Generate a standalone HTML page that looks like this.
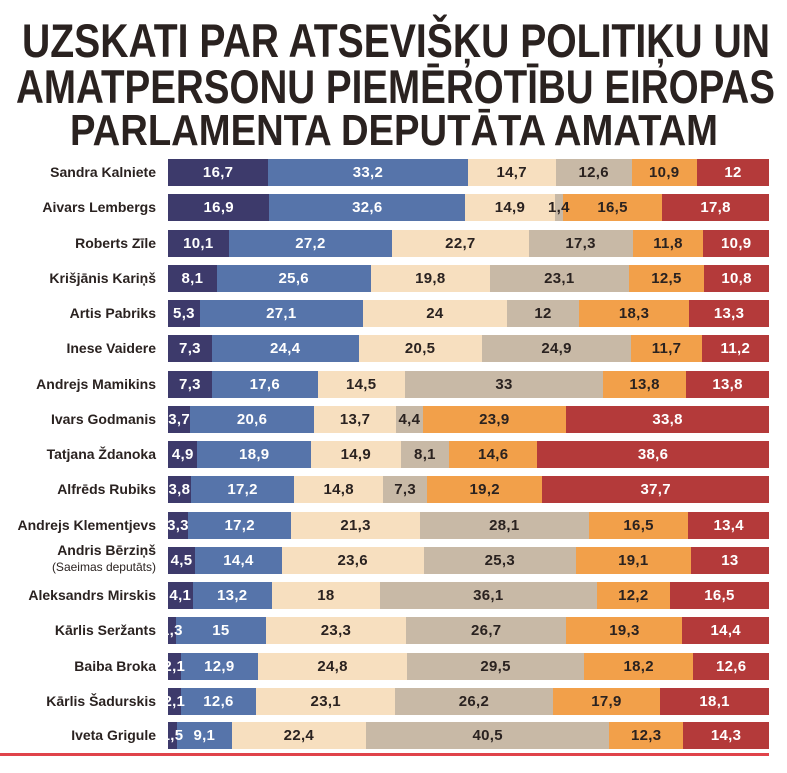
<!DOCTYPE html>
<html><head><meta charset="utf-8"><style>
body{margin:0;width:787px;height:773px;background:#fff;position:relative;overflow:hidden;font-family:"Liberation Sans",sans-serif}
.t{position:absolute;left:0;top:0}
.row{position:absolute;left:168px;width:601px;height:27px;display:flex}
.row div{min-width:0;display:flex;align-items:center;justify-content:center;white-space:nowrap;font-weight:bold;font-size:15px;letter-spacing:0.3px;overflow:visible}
.row span{position:relative;z-index:2}
.a{background:#3d3a6b;color:#fff}.b{background:#5674aa;color:#fff}.c{background:#f7dfbf;color:#2a2220}.d{background:#c8b9a6;color:#2a2220}.e{background:#f2a04a;color:#2a2220}.f{background:#b43a3a;color:#fff}
.lab{position:absolute;right:631px;font-weight:bold;font-size:14px;color:#2a2220;white-space:nowrap;text-align:right;line-height:27px}
</style></head><body>
<svg class="t" width="787" height="150" font-family="Liberation Sans,sans-serif" font-weight="bold" fill="#2a2220">
<text x="22" y="57" font-size="47" textLength="748" lengthAdjust="spacingAndGlyphs">UZSKATI PAR ATSEVIŠĶU POLITIĶU UN</text>
<text x="16" y="103" font-size="47" textLength="759" lengthAdjust="spacingAndGlyphs">AMATPERSONU PIEMĒROTĪBU EIROPAS</text>
<text x="70" y="145" font-size="44" textLength="648" lengthAdjust="spacingAndGlyphs">PARLAMENTA DEPUTĀTA AMATAM</text>
</svg>

<div class="lab" style="top:159px">Sandra Kalniete</div>
<div class="row" style="top:159px"><div class="a" style="flex:16.7"><span>16,7</span></div><div class="b" style="flex:33.2"><span>33,2</span></div><div class="c" style="flex:14.7"><span>14,7</span></div><div class="d" style="flex:12.6"><span>12,6</span></div><div class="e" style="flex:10.9"><span>10,9</span></div><div class="f" style="flex:12"><span>12</span></div></div>

<div class="lab" style="top:194px">Aivars Lembergs</div>
<div class="row" style="top:194px"><div class="a" style="flex:16.9"><span>16,9</span></div><div class="b" style="flex:32.6"><span>32,6</span></div><div class="c" style="flex:14.9"><span>14,9</span></div><div class="d" style="flex:1.4"><span>1,4</span></div><div class="e" style="flex:16.5"><span>16,5</span></div><div class="f" style="flex:17.8"><span>17,8</span></div></div>

<div class="lab" style="top:230px">Roberts Zīle</div>
<div class="row" style="top:230px"><div class="a" style="flex:10.1"><span>10,1</span></div><div class="b" style="flex:27.2"><span>27,2</span></div><div class="c" style="flex:22.7"><span>22,7</span></div><div class="d" style="flex:17.3"><span>17,3</span></div><div class="e" style="flex:11.8"><span>11,8</span></div><div class="f" style="flex:10.9"><span>10,9</span></div></div>

<div class="lab" style="top:265px">Krišjānis Kariņš</div>
<div class="row" style="top:265px"><div class="a" style="flex:8.1"><span>8,1</span></div><div class="b" style="flex:25.6"><span>25,6</span></div><div class="c" style="flex:19.8"><span>19,8</span></div><div class="d" style="flex:23.1"><span>23,1</span></div><div class="e" style="flex:12.5"><span>12,5</span></div><div class="f" style="flex:10.8"><span>10,8</span></div></div>

<div class="lab" style="top:300px">Artis Pabriks</div>
<div class="row" style="top:300px"><div class="a" style="flex:5.3"><span>5,3</span></div><div class="b" style="flex:27.1"><span>27,1</span></div><div class="c" style="flex:24"><span>24</span></div><div class="d" style="flex:12"><span>12</span></div><div class="e" style="flex:18.3"><span>18,3</span></div><div class="f" style="flex:13.3"><span>13,3</span></div></div>

<div class="lab" style="top:335px">Inese Vaidere</div>
<div class="row" style="top:335px"><div class="a" style="flex:7.3"><span>7,3</span></div><div class="b" style="flex:24.4"><span>24,4</span></div><div class="c" style="flex:20.5"><span>20,5</span></div><div class="d" style="flex:24.9"><span>24,9</span></div><div class="e" style="flex:11.7"><span>11,7</span></div><div class="f" style="flex:11.2"><span>11,2</span></div></div>

<div class="lab" style="top:371px">Andrejs Mamikins</div>
<div class="row" style="top:371px"><div class="a" style="flex:7.3"><span>7,3</span></div><div class="b" style="flex:17.6"><span>17,6</span></div><div class="c" style="flex:14.5"><span>14,5</span></div><div class="d" style="flex:33"><span>33</span></div><div class="e" style="flex:13.8"><span>13,8</span></div><div class="f" style="flex:13.8"><span>13,8</span></div></div>

<div class="lab" style="top:406px">Ivars Godmanis</div>
<div class="row" style="top:406px"><div class="a" style="flex:3.7"><span>3,7</span></div><div class="b" style="flex:20.6"><span>20,6</span></div><div class="c" style="flex:13.7"><span>13,7</span></div><div class="d" style="flex:4.4"><span>4,4</span></div><div class="e" style="flex:23.9"><span>23,9</span></div><div class="f" style="flex:33.8"><span>33,8</span></div></div>

<div class="lab" style="top:441px">Tatjana Ždanoka</div>
<div class="row" style="top:441px"><div class="a" style="flex:4.9"><span>4,9</span></div><div class="b" style="flex:18.9"><span>18,9</span></div><div class="c" style="flex:14.9"><span>14,9</span></div><div class="d" style="flex:8.1"><span>8,1</span></div><div class="e" style="flex:14.6"><span>14,6</span></div><div class="f" style="flex:38.6"><span>38,6</span></div></div>

<div class="lab" style="top:476px">Alfrēds Rubiks</div>
<div class="row" style="top:476px"><div class="a" style="flex:3.8"><span>3,8</span></div><div class="b" style="flex:17.2"><span>17,2</span></div><div class="c" style="flex:14.8"><span>14,8</span></div><div class="d" style="flex:7.3"><span>7,3</span></div><div class="e" style="flex:19.2"><span>19,2</span></div><div class="f" style="flex:37.7"><span>37,7</span></div></div>

<div class="lab" style="top:512px">Andrejs Klementjevs</div>
<div class="row" style="top:512px"><div class="a" style="flex:3.3"><span>3,3</span></div><div class="b" style="flex:17.2"><span>17,2</span></div><div class="c" style="flex:21.3"><span>21,3</span></div><div class="d" style="flex:28.1"><span>28,1</span></div><div class="e" style="flex:16.5"><span>16,5</span></div><div class="f" style="flex:13.4"><span>13,4</span></div></div>

<div class="lab" style="top:542px;line-height:16px">Andris Bērziņš<br><span style="font-weight:normal;font-size:12px">(Saeimas deputāts)</span></div>
<div class="row" style="top:547px"><div class="a" style="flex:4.5"><span>4,5</span></div><div class="b" style="flex:14.4"><span>14,4</span></div><div class="c" style="flex:23.6"><span>23,6</span></div><div class="d" style="flex:25.3"><span>25,3</span></div><div class="e" style="flex:19.1"><span>19,1</span></div><div class="f" style="flex:13"><span>13</span></div></div>

<div class="lab" style="top:582px">Aleksandrs Mirskis</div>
<div class="row" style="top:582px"><div class="a" style="flex:4.1"><span>4,1</span></div><div class="b" style="flex:13.2"><span>13,2</span></div><div class="c" style="flex:18"><span>18</span></div><div class="d" style="flex:36.1"><span>36,1</span></div><div class="e" style="flex:12.2"><span>12,2</span></div><div class="f" style="flex:16.5"><span>16,5</span></div></div>

<div class="lab" style="top:617px">Kārlis Seržants</div>
<div class="row" style="top:617px"><div class="a" style="flex:1.3"><span>1,3</span></div><div class="b" style="flex:15"><span>15</span></div><div class="c" style="flex:23.3"><span>23,3</span></div><div class="d" style="flex:26.7"><span>26,7</span></div><div class="e" style="flex:19.3"><span>19,3</span></div><div class="f" style="flex:14.4"><span>14,4</span></div></div>

<div class="lab" style="top:653px">Baiba Broka</div>
<div class="row" style="top:653px"><div class="a" style="flex:2.1"><span>2,1</span></div><div class="b" style="flex:12.9"><span>12,9</span></div><div class="c" style="flex:24.8"><span>24,8</span></div><div class="d" style="flex:29.5"><span>29,5</span></div><div class="e" style="flex:18.2"><span>18,2</span></div><div class="f" style="flex:12.6"><span>12,6</span></div></div>

<div class="lab" style="top:688px">Kārlis Šadurskis</div>
<div class="row" style="top:688px"><div class="a" style="flex:2.1"><span>2,1</span></div><div class="b" style="flex:12.6"><span>12,6</span></div><div class="c" style="flex:23.1"><span>23,1</span></div><div class="d" style="flex:26.2"><span>26,2</span></div><div class="e" style="flex:17.9"><span>17,9</span></div><div class="f" style="flex:18.1"><span>18,1</span></div></div>

<div class="lab" style="top:722px">Iveta Grigule</div>
<div class="row" style="top:722px"><div class="a" style="flex:1.5"><span>1,5</span></div><div class="b" style="flex:9.1"><span>9,1</span></div><div class="c" style="flex:22.4"><span>22,4</span></div><div class="d" style="flex:40.5"><span>40,5</span></div><div class="e" style="flex:12.3"><span>12,3</span></div><div class="f" style="flex:14.3"><span>14,3</span></div></div>

<div style="position:absolute;left:0;top:753px;width:769px;height:3px;background:#e0434a"></div>
</body></html>
